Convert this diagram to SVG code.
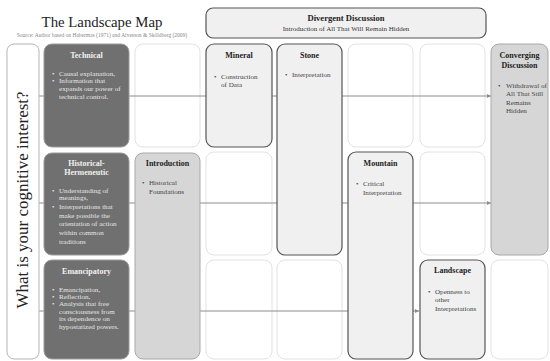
<svg xmlns="http://www.w3.org/2000/svg" width="550" height="361" viewBox="0 0 550 361">
  <style>
    text { font-family: "Liberation Serif", "Times New Roman", serif; }
    .title { font-size: 14.8px; fill: #222; }
    .src { font-size: 5.5px; fill: #888; }
    .empty { fill: #ffffff; stroke: #e2e2e2; stroke-width: 1; }
    .frame { fill: #ffffff; stroke: #b5b5b5; stroke-width: 1; }
    .interest { fill: #707070; stroke: #9a9a9a; stroke-width: 1; }
    .phase { fill: #f0f0f0; stroke: #555555; stroke-width: 1.2; }
    .endpoint { fill: #d6d6d6; stroke: #a8a8a8; stroke-width: 1; }
    .h { font-size: 8px; font-weight: bold; text-anchor: middle; fill: #222; }
    .hw { font-size: 8px; font-weight: bold; text-anchor: middle; fill: #f0f0f0; }
    .b { font-size: 7.1px; fill: #444; }
    .bw { font-size: 7.1px; fill: #e6e6e6; }
    .sub { font-size: 7px; fill: #333; text-anchor: middle; }
    .axis { font-size: 17px; fill: #222; text-anchor: middle; }
    .flow { stroke: #8c8c8c; stroke-width: 1; fill: none; marker-end: url(#arrow); }
  </style>
  <defs>
    <marker id="arrow" viewBox="0 0 6 6" refX="6" refY="3" markerWidth="4" markerHeight="4" orient="auto">
      <path d="M0,0 L6,3 L0,6 z" fill="#8c8c8c"/>
    </marker>
  </defs>

  <!-- heading -->
  <text class="title" x="102" y="27" text-anchor="middle">The Landscape Map</text>
  <text class="src" x="102" y="37" text-anchor="middle">Source: Author based on Habermas (1971) and Alvesson &amp; Sköldberg (2009)</text>

  <!-- empty grid cells -->
  <g id="grid">
    <rect class="empty" x="135" y="44" width="65" height="103" rx="8"/>
    <rect class="empty" x="348" y="44" width="65" height="103" rx="8"/>
    <rect class="empty" x="420" y="44" width="65" height="103" rx="8"/>
    <rect class="empty" x="206" y="152" width="66" height="103" rx="8"/>
    <rect class="empty" x="420" y="152" width="65" height="103" rx="8"/>
    <rect class="empty" x="206" y="260" width="66" height="99" rx="8"/>
    <rect class="empty" x="277" y="260" width="65" height="99" rx="8"/>
    <rect class="empty" x="491" y="260" width="57" height="99" rx="8"/>
  </g>

  <!-- connectors -->
  <g id="connectors">
    <line class="flow" x1="38" y1="96" x2="491" y2="96"/>
    <line class="flow" x1="38" y1="203" x2="491" y2="203"/>
    <line class="flow" x1="38" y1="311" x2="419" y2="311"/>
  </g>

  <g id="axis">
    <rect class="frame" x="7" y="44" width="32" height="315" rx="7"/>
    <text class="axis" transform="translate(28,200) rotate(-90)">What is your cognitive interest?</text>
  </g>

  <g id="divergent">
    <rect class="phase" x="206" y="8" width="280" height="30" rx="7"/>
    <text class="h" x="346" y="21" style="font-size:8.6px">Divergent Discussion</text>
    <text class="sub" x="346" y="30.5">Introduction of All That Will Remain Hidden</text>
  </g>

  <g id="technical">
    <rect class="interest" x="44" y="44" width="85" height="103" rx="8"/>
    <text class="hw" x="86.5" y="57.5">Technical</text>
    <text class="bw" x="52" y="75.5">•</text><text class="bw" x="59" y="75.5">Causal explanation,</text>
    <text class="bw" x="52" y="83">•</text><text class="bw" x="59" y="83">Information that</text>
    <text class="bw" x="59" y="91">expands our power of</text>
    <text class="bw" x="59" y="99">technical control.</text>
  </g>

  <g id="historical">
    <rect class="interest" x="44" y="153" width="85" height="102" rx="8"/>
    <text class="hw" x="86.5" y="165.5">Historical-</text>
    <text class="hw" x="86.5" y="175">Hermeneutic</text>
    <text class="bw" x="52" y="192.5">•</text><text class="bw" x="59" y="192.5">Understanding of</text>
    <text class="bw" x="59" y="200">meanings,</text>
    <text class="bw" x="52" y="209">•</text><text class="bw" x="59" y="209">Interpretations that</text>
    <text class="bw" x="59" y="217.5">make possible the</text>
    <text class="bw" x="59" y="226">orientation of action</text>
    <text class="bw" x="59" y="234.5">within common</text>
    <text class="bw" x="59" y="243.5">traditions</text>
  </g>

  <g id="emancipatory">
    <rect class="interest" x="44" y="260" width="85" height="99" rx="8"/>
    <text class="hw" x="86.5" y="273.5">Emancipatory</text>
    <text class="bw" x="52" y="291.5">•</text><text class="bw" x="59" y="291.5">Emancipation,</text>
    <text class="bw" x="52" y="298.5">•</text><text class="bw" x="59" y="298.5">Reflection,</text>
    <text class="bw" x="52" y="306">•</text><text class="bw" x="59" y="306">Analysis that free</text>
    <text class="bw" x="59" y="313.5">consciousness from</text>
    <text class="bw" x="59" y="321">its dependence on</text>
    <text class="bw" x="59" y="328.5">hypostatized powers.</text>
  </g>

  <g id="introduction">
    <rect class="endpoint" x="135" y="153" width="65" height="206" rx="8"/>
    <text class="h" x="167.5" y="166">Introduction</text>
    <text class="b" x="142" y="184.5">•</text><text class="b" x="149" y="184.5">Historical</text>
    <text class="b" x="149" y="193.5">Foundations</text>
  </g>

  <g id="mineral">
    <rect class="phase" x="206" y="44" width="66" height="103" rx="8"/>
    <text class="h" x="239" y="57.5">Mineral</text>
    <text class="b" x="214" y="78.5">•</text><text class="b" x="221" y="78.5">Construction</text>
    <text class="b" x="221" y="87">of Data</text>
  </g>

  <g id="stone">
    <rect class="phase" x="277" y="44" width="65" height="211" rx="8"/>
    <text class="h" x="309.5" y="57.5">Stone</text>
    <text class="b" x="285" y="76.5">•</text><text class="b" x="292" y="76.5">Interpretation</text>
  </g>

  <g id="mountain">
    <rect class="phase" x="348" y="152" width="65" height="207" rx="8"/>
    <text class="h" x="380.5" y="165.5">Mountain</text>
    <text class="b" x="356" y="185.5">•</text><text class="b" x="363" y="185.5">Critical</text>
    <text class="b" x="363" y="194.5">Interpretation</text>
  </g>

  <g id="landscape">
    <rect class="phase" x="420" y="260" width="65" height="99" rx="8"/>
    <text class="h" x="452.5" y="273">Landscape</text>
    <text class="b" x="428" y="293.5">•</text><text class="b" x="435" y="293.5">Openness to</text>
    <text class="b" x="435" y="302">other</text>
    <text class="b" x="435" y="310.5">Interpretations</text>
  </g>

  <g id="converging">
    <rect class="endpoint" x="491" y="44" width="57" height="211" rx="8"/>
    <text class="h" x="519.5" y="57.5">Converging</text>
    <text class="h" x="519.5" y="67.5">Discussion</text>
    <text class="b" x="498" y="87.5">•</text><text class="b" x="506" y="87.5">Withdrawal of</text>
    <text class="b" x="506" y="96">All That Still</text>
    <text class="b" x="506" y="104.5">Remains</text>
    <text class="b" x="506" y="113">Hidden</text>
  </g>
</svg>
